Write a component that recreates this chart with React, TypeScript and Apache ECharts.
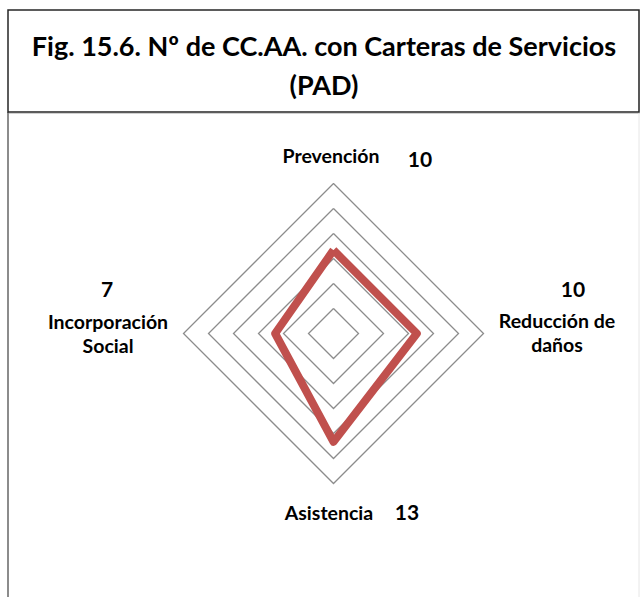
import React, { useEffect, useRef } from "react";
import * as echarts from "echarts";

const titleText = "Fig. 15.6. Nº de CC.AA. con Carteras de Servicios\n(PAD)";
// counter-clockwise order starting at top
const indicatorNames = ["Prevención", "Incorporación\nSocial", "Asistencia", "Reducción de\ndaños"];
const values = [10, 7, 13, 10];
const axisMax = 18;
const splitCount = 6;

// label anchor positions (center of name / value) for each indicator
const namePos = [
  [331, 155],
  [108, 333],
  [329, 512],
  [557, 332],
];
const valuePos = [
  [420, 158],
  [107, 288],
  [407, 511],
  [573, 288],
];

const FONT = "Lato, 'Open Sans', sans-serif";

export default function App() {
  const ref = useRef<HTMLDivElement>(null);
  useEffect(() => {
    document.body.style.margin = "0";
    const chart = echarts.init(ref.current!, null, { renderer: "svg" });
    const graphics: any[] = [
      {
        type: "rect",
        shape: { x: 8, y: 10, width: 631, height: 102 },
        style: { fill: "none", stroke: "#262626", lineWidth: 1.5 },
        z: 10,
      },
      {
        type: "line",
        shape: { x1: 8, y1: 113.5, x2: 640, y2: 113.5 },
        style: { stroke: "#d0d0d0", lineWidth: 1 },
      },
      {
        type: "line",
        shape: { x1: 8, y1: 112, x2: 8, y2: 597 },
        style: { stroke: "#8c8c8c", lineWidth: 2 },
      },
      {
        type: "line",
        shape: { x1: 639, y1: 10, x2: 639, y2: 597 },
        style: { stroke: "#e6e6e6", lineWidth: 1 },
      },
      {
        type: "text",
        style: {
          text: titleText,
          x: 324,
          y: 65,
          align: "center",
          verticalAlign: "middle",
          font: `bold 27px ${FONT}`,
          lineHeight: 39,
          fill: "#000",
        },
      },
    ];
    indicatorNames.forEach((n, i) => {
      graphics.push({
        type: "text",
        style: {
          text: n,
          x: namePos[i][0],
          y: namePos[i][1],
          align: "center",
          verticalAlign: "middle",
          font: `bold 19.5px ${FONT}`,
          lineHeight: 24,
          fill: "#000",
        },
      });
      graphics.push({
        type: "text",
        style: {
          text: String(values[i]),
          x: valuePos[i][0],
          y: valuePos[i][1],
          align: "center",
          verticalAlign: "middle",
          font: `bold 21px ${FONT}`,
          fill: "#000",
        },
      });
    });
    chart.setOption({
      animation: false,
      backgroundColor: "#fff",
      graphic: graphics,
      radar: {
        center: [333.5, 333.5],
        radius: 150,
        shape: "polygon",
        startAngle: 90,
        splitNumber: splitCount,
        indicator: indicatorNames.map((n) => ({ name: n, min: 0, max: axisMax })),
        axisName: { show: false },
        axisLine: { show: false },
        axisTick: { show: false },
        axisLabel: { show: false },
        splitArea: { show: false },
        splitLine: { lineStyle: { color: "#8c8c8c", width: 1.3 } },
      },
      series: [
        {
          type: "radar",
          symbol: "none",
          lineStyle: { color: "#C0504D", width: 8, join: "round" },
          data: [{ value: values, name: "CC.AA." }],
        },
      ],
    });
    return () => chart.dispose();
  }, []);
  return <div ref={ref} style={{ width: 640, height: 597 }} />;
}
